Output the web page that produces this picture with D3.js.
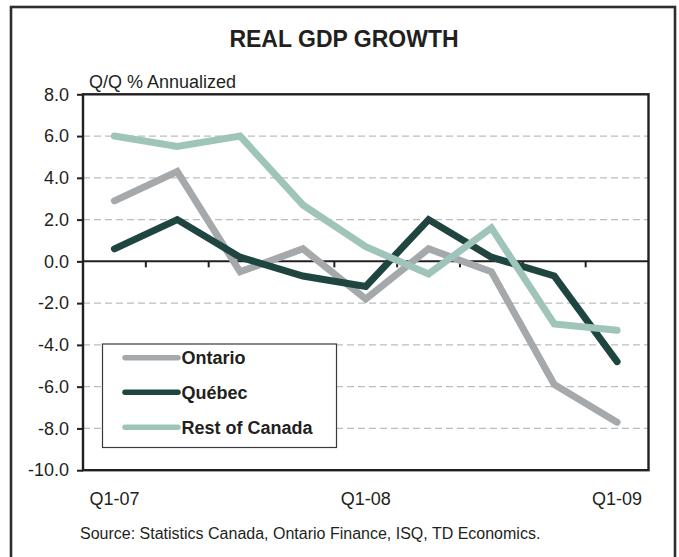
<!DOCTYPE html>
<html>
<head>
<meta charset="utf-8">
<script src="https://cdn.jsdelivr.net/npm/d3@7"></script>
<style>
  html, body { margin: 0; padding: 0; background: #fff; }
  svg { display: block; font-family: "Liberation Sans", Arial, Helvetica, sans-serif; }
</style>
</head>
<body>
<svg id="chart" width="679" height="557"></svg>
<script>
// ---- data ----
const categories = ["Q1-07","Q2-07","Q3-07","Q4-07","Q1-08","Q2-08","Q3-08","Q4-08","Q1-09"];
const ontario   = [2.9, 4.3, -0.5, 0.6, -1.8, 0.6, -0.5, -5.9, -7.7];
const quebec    = [0.6, 2.0, 0.2, -0.7, -1.2, 2.0, 0.2, -0.7, -4.8];
const restOfCan = [6.0, 5.5, 6.0, 2.7, 0.7, -0.6, 1.6, -3.0, -3.3];
const seriesNames = ["Ontario", "Québec", "Rest of Canada"];
const seriesColors = ["#a6a9ab", "#1f4541", "#9fc5bb"];
const yTicks = [8, 6, 4, 2, 0, -2, -4, -6, -8, -10];
const xTickLabels = ["Q1-07", "Q1-08", "Q1-09"];
const titleText = "REAL GDP GROWTH";
const yAxisTitle = "Q/Q % Annualized";
const sourceText = "Source: Statistics Canada, Ontario Finance, ISQ, TD Economics.";

const series = [ontario, quebec, restOfCan];

// ---- layout ----
const svg = d3.select("#chart");
const plot = { left: 83, right: 648.5, top: 94.3, bottom: 470.2 };

const x = d3.scaleBand().domain(categories).range([plot.left, plot.right]).padding(0);
const y = d3.scaleLinear().domain([-10, 8]).range([plot.bottom, plot.top]);
const cx = c => x(c) + x.bandwidth() / 2;

const locale = d3.formatLocale({ decimal: ".", thousands: ",", grouping: [3], currency: ["", ""], minus: "-" });
const fmt = locale.format(".1f");

// outer frame
svg.append("rect")
  .attr("x", 11).attr("y", 7).attr("width", 664).attr("height", 570)
  .attr("fill", "none").attr("stroke", "#2e2e2e").attr("stroke-width", 2.6);

// title
svg.append("text")
  .attr("x", 344).attr("y", 47)
  .attr("text-anchor", "middle")
  .attr("font-size", 23).attr("font-weight", "bold").attr("fill", "#231f20")
  .text(titleText);

// y axis title
svg.append("text")
  .attr("x", 89).attr("y", 88)
  .attr("font-size", 18).attr("fill", "#231f20")
  .text(yAxisTitle);

// gridlines
svg.append("g")
  .selectAll("line")
  .data(yTicks.filter(v => v !== 0 && v !== 8 && v !== -10))
  .join("line")
  .attr("x1", plot.left).attr("x2", plot.right)
  .attr("y1", d => y(d)).attr("y2", d => y(d))
  .attr("stroke", "#bdbdbd").attr("stroke-width", 1.2)
  .attr("stroke-dasharray", "7,4");

// y axis
const yAxis = d3.axisLeft(y).tickValues(yTicks).tickFormat(fmt).tickSize(6).tickPadding(8);
const gy = svg.append("g").attr("transform", `translate(${plot.left},0)`).call(yAxis);
gy.select(".domain").remove();
gy.selectAll(".tick line").attr("stroke", "#231f20").attr("stroke-width", 2);
gy.selectAll(".tick text").attr("font-size", 18).attr("fill", "#231f20")
  .attr("font-family", "Liberation Sans, Arial, sans-serif");

// zero line with category ticks (between categories)
const zeroG = svg.append("g").attr("transform", `translate(0,${y(0)})`);
zeroG.append("line")
  .attr("x1", plot.left).attr("x2", plot.right)
  .attr("stroke", "#231f20").attr("stroke-width", 2);
zeroG.selectAll("line.ct")
  .data(categories.slice(1))
  .join("line").attr("class", "ct")
  .attr("x1", d => x(d)).attr("x2", d => x(d))
  .attr("y1", 0).attr("y2", 6)
  .attr("stroke", "#231f20").attr("stroke-width", 2);

// x labels
const xAxis = d3.axisBottom(x).tickValues(xTickLabels).tickSize(0).tickPadding(22);
const gx = svg.append("g").attr("transform", `translate(0,${plot.bottom})`).call(xAxis);
gx.select(".domain").remove();
gx.selectAll(".tick text").attr("font-size", 18).attr("fill", "#231f20")
  .attr("font-family", "Liberation Sans, Arial, sans-serif");

// plot border
svg.append("rect")
  .attr("x", plot.left).attr("y", plot.top)
  .attr("width", plot.right - plot.left).attr("height", plot.bottom - plot.top)
  .attr("fill", "none").attr("stroke", "#231f20").attr("stroke-width", 2.4);

// series lines
const line = d3.line().x((d, i) => cx(categories[i])).y(d => y(d));
svg.append("g")
  .selectAll("path")
  .data(series)
  .join("path")
  .attr("d", d => line(d))
  .attr("fill", "none")
  .attr("stroke", (d, i) => seriesColors[i])
  .attr("stroke-width", 7)
  .attr("stroke-linecap", "round")
  .attr("stroke-linejoin", "miter");

// legend
const lg = svg.append("g");
lg.append("rect")
  .attr("x", 102.5).attr("y", 344).attr("width", 234).attr("height", 103.5)
  .attr("fill", "#fff").attr("stroke", "#3a3a3a").attr("stroke-width", 1.2);
const rowY = [357.7, 392.3, 427.3];
seriesNames.forEach((name, i) => {
  lg.append("line")
    .attr("x1", 125).attr("x2", 178)
    .attr("y1", rowY[i]).attr("y2", rowY[i])
    .attr("stroke", seriesColors[i]).attr("stroke-width", 5.5)
    .attr("stroke-linecap", "round");
  lg.append("text")
    .attr("x", 181.5).attr("y", rowY[i] + 6.5)
    .attr("font-size", 18).attr("font-weight", "bold").attr("fill", "#231f20")
    .text(name);
});

// source
svg.append("text")
  .attr("x", 80).attr("y", 539)
  .attr("font-size", 16).attr("fill", "#231f20")
  .text(sourceText);
</script>
</body>
</html>
